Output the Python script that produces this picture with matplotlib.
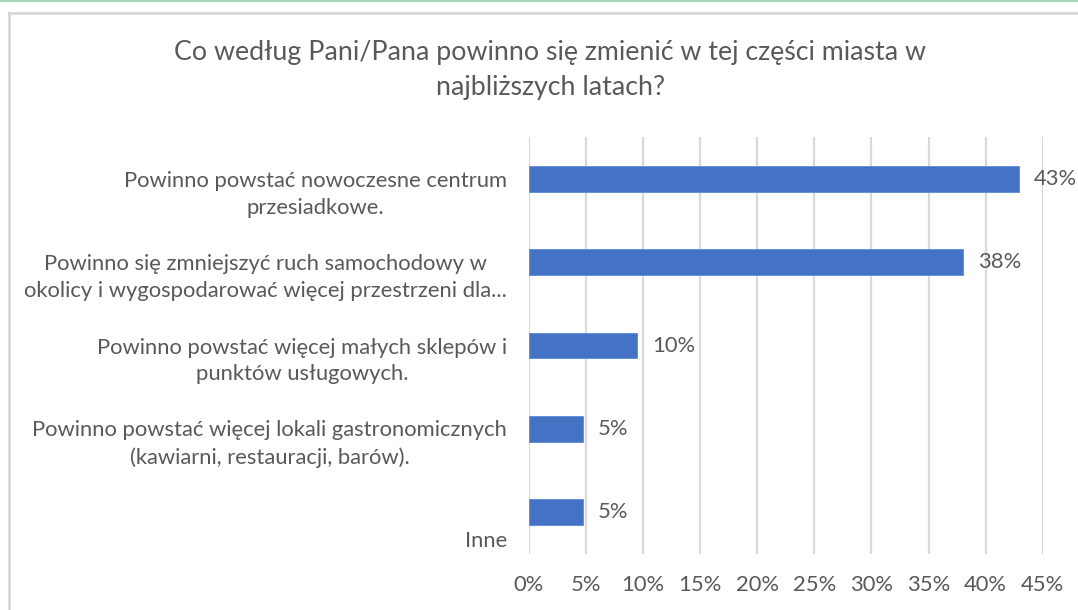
import matplotlib
matplotlib.use("Agg")
import matplotlib.pyplot as plt
from matplotlib.lines import Line2D

categories = [
    "Powinno powstać nowoczesne centrum\nprzesiadkowe.",
    "Powinno się zmniejszyć ruch samochodowy w\nokolicy i wygospodarować więcej przestrzeni dla...",
    "Powinno powstać więcej małych sklepów i\npunktów usługowych.",
    "Powinno powstać więcej lokali gastronomicznych\n(kawiarni, restauracji, barów).",
    "Inne",
]
values = [42.9, 38.0, 9.5, 4.7, 4.7]
value_labels = ["43%", "38%", "10%", "5%", "5%"]
xticks = [0, 5, 10, 15, 20, 25, 30, 35, 40, 45]
xtick_labels = ["0%", "5%", "10%", "15%", "20%", "25%", "30%", "35%", "40%", "45%"]
title = "Co według Pani/Pana powinno się zmienić w tej części miasta w\nnajbliższych latach?"

W, H = 1078, 610
DPI = 100
plt.rcParams['font.family'] = ['Lato', 'DejaVu Sans']
TXT = '#595959'

fig = plt.figure(figsize=(W / DPI, H / DPI), dpi=DPI)
fig.patch.set_facecolor('white')

# calibrate font sizes to reference widths
renderer = fig.canvas.get_renderer()
def fit_size(s, target_px, base=14):
    t = fig.text(0, 0, s, fontsize=base)
    w = t.get_window_extent(renderer).width
    t.remove()
    return base * target_px / w

title_fs = fit_size("Co według Pani/Pana powinno się zmienić w tej części miasta w", 756)
label_fs = fit_size("Powinno powstać nowoczesne centrum", 385)

ax = fig.add_axes([529 / W, 1 - 554 / H, 513.7 / W, (554 - 137) / H])
ypos = list(range(len(categories)))
ax.barh(ypos, values, height=0.31, color='#4472C4', edgecolor='#5B8BD8', linewidth=0.6, zorder=3)
ax.set_xlim(0, 45)
ax.set_ylim(len(categories) - 0.5, -0.5)
ax.set_xticks(xticks)
ax.set_xticklabels(xtick_labels)
ax.set_yticks([])
ax.tick_params(axis='x', length=0, pad=15, labelsize=label_fs, labelcolor=TXT)
ax.grid(axis='x', color='#D9D9D9', linewidth=1.6, zorder=0)
for s in ax.spines.values():
    s.set_visible(False)

for y, lab in zip(ypos, categories):
    ax.annotate(lab, xy=(0, y), xycoords=('axes fraction', 'data'),
                xytext=(-22, -39), textcoords='offset pixels',
                ha='right', va='bottom', multialignment='center',
                fontsize=label_fs, color=TXT, linespacing=1.42)

for y, v, vl in zip(ypos, values, value_labels):
    ax.annotate(vl, xy=(v, y), xycoords='data', xytext=(15, 0), textcoords='offset pixels',
                ha='left', va='center', fontsize=label_fs, color=TXT)

fig.text(550 / W, 1 - 70 / H, title, ha='center', va='center', multialignment='center',
         fontsize=title_fs, color=TXT, linespacing=1.5)

# chart border and top green line
fig.add_artist(Line2D([0, 1], [1 - 0.8 / H, 1 - 0.8 / H], color='#A8D8BC', linewidth=1.6, transform=fig.transFigure))
fig.add_artist(Line2D([8.5 / W, 1], [1 - 12.5 / H, 1 - 12.5 / H], color='#D4D4D4', linewidth=1.8, transform=fig.transFigure))
fig.add_artist(Line2D([8.5 / W, 8.5 / W], [0, 1 - 12.5 / H], color='#D4D4D4', linewidth=1.8, transform=fig.transFigure))

fig.savefig('out.png', dpi=DPI, facecolor='white')
